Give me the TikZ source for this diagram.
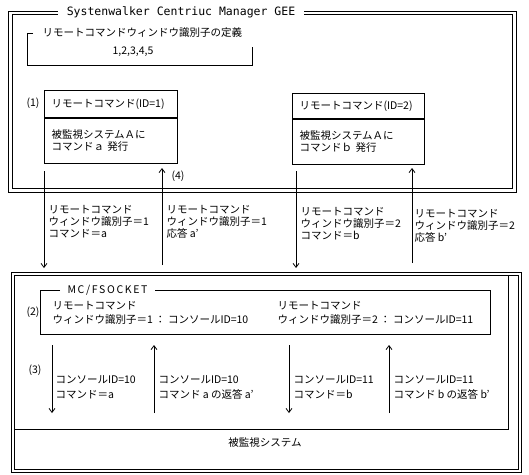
\documentclass[tikz,border=0pt]{standalone}
\usepackage{fontspec}
\setmainfont{Noto Sans CJK JP}
\newfontfamily\monofont{DejaVu Sans Mono}
\newfontfamily\widefont[LetterSpace=16]{Noto Sans CJK JP}
\usetikzlibrary{arrows.meta}
\begin{document}
\begin{tikzpicture}[x=1pt,y=-1pt,
  line width=1pt,
  every node/.style={font=\fontsize{10.5}{12}\selectfont, inner sep=0pt},
  lbl/.style={anchor=west, align=left},
  hdr/.style={draw, anchor=north west, align=left, inner xsep=7pt},
  arr/.style={-{Straight Barb[length=4pt,width=6pt]}, line width=0.8pt}]
\useasboundingbox (0,0) rectangle (529,474);
\fill[white] (0,0) rectangle (529,474);
% ---------- upper frame: Centric Manager ----------
\draw (8,11) rectangle (516,192);
\draw (12,14) rectangle (512,188);
\node[fill=white, inner xsep=9pt, inner ysep=3pt, font=\monofont\fontsize{11.5}{12}\selectfont] (title) at (181,12.5) {Systenwalker Centriuc Manager GEE};
% definition box
\draw (33,33) -- (27,33) -- (27,65) -- (252,65) -- (252,47);
\node[lbl] (deftitle) at (42,33) {リモートコマンドウィンドウ識別子の定義};
\node (defval) at (133,52) {1,2,3,4,5};
% remote command boxes
\node[hdr, minimum width=133pt, minimum height=27pt, text width=119pt] (h1) at (44,90) {リモートコマンド(ID=1)};
\node[hdr, minimum width=133pt, minimum height=45pt, text width=119pt, anchor=north west] (b1) at (h1.south west) {被監視システムＡに\\コマンドａ 発行};
\node[anchor=east] (n1) at (40,103.5) {(1)};
\node[hdr, minimum width=132pt, minimum height=25pt, text width=118pt] (h2) at (292,93) {リモートコマンド(ID=2)};
\node[hdr, minimum width=132pt, minimum height=45pt, text width=118pt, anchor=north west] (b2) at (h2.south west) {被監視システムＡに\\コマンドｂ 発行};
% ---------- lower frame: monitored system ----------
\draw (11,272) rectangle (521,472);
\draw (14,275) rectangle (518,469);
\draw (508,275) -- (508,429) -- (14,429);
\node (sys) at (265,443) {被監視システム};
% MC/FSOCKET box
\draw (60,290) -- (40,290) -- (40,334) -- (490,334) -- (490,290) -- (155,290);
\node[lbl, font=\widefont\fontsize{10.5}{12}\selectfont] (mctitle) at (67,290) {MC/FSOCKET};
\node[anchor=east] (n2) at (40,312) {(2)};
\node[lbl, font=\fontsize{10.5}{14}\selectfont] (map1) at (52,313) {リモートコマンド\\ウィンドウ識別子＝1 ： コンソールID=10};
\node[lbl, font=\fontsize{10.5}{14}\selectfont] (map2) at (277,313) {リモートコマンド\\ウィンドウ識別子＝2 ： コンソールID=11};
% ---------- upper arrows ----------
\coordinate (a1s) at (44,171);  \coordinate (a1e) at (44,268);
\coordinate (u1s) at (162,265); \coordinate (u1e) at (162,168);
\coordinate (a2s) at (296,171); \coordinate (a2e) at (296,268);
\coordinate (u2s) at (412,263); \coordinate (u2e) at (412,168);
\draw[arr] (a1s) -- (a1e);
\draw[arr] (u1s) -- (u1e);
\draw[arr] (a2s) -- (a2e);
\draw[arr] (u2s) -- (u2e);
\node[anchor=west] (n4) at (171,176) {(4)};
\node[lbl] (l1) at (48,222) {リモートコマンド\\ウィンドウ識別子＝1\\コマンド＝a};
\node[lbl] (l2) at (166,222) {リモートコマンド\\ウィンドウ識別子＝1\\応答 a’};
\node[lbl] (l3) at (300,224) {リモートコマンド\\ウィンドウ識別子＝2\\コマンド＝b};
\node[lbl] (l4) at (414,226) {リモートコマンド\\ウィンドウ識別子＝2\\応答 b’};
% ---------- lower arrows ----------
\coordinate (c1s) at (52,345);  \coordinate (c1e) at (52,413);
\coordinate (r1s) at (154,413); \coordinate (r1e) at (154,345);
\coordinate (c2s) at (289,345); \coordinate (c2e) at (289,413);
\coordinate (r2s) at (389,413); \coordinate (r2e) at (389,345);
\draw[arr] (c1s) -- (c1e);
\draw[arr] (r1s) -- (r1e);
\draw[arr] (c2s) -- (c2e);
\draw[arr] (r2s) -- (r2e);
\node (n3) at (35,370) {(3)};
\node[lbl, font=\fontsize{10.5}{15}\selectfont] (m1) at (55,387.5) {コンソールID=10\\コマンド＝a};
\node[lbl, font=\fontsize{10.5}{15}\selectfont] (m2) at (158,387.5) {コンソールID=10\\コマンド a の返答 a’};
\node[lbl, font=\fontsize{10.5}{15}\selectfont] (m3) at (293,387.5) {コンソールID=11\\コマンド＝b};
\node[lbl, font=\fontsize{10.5}{15}\selectfont] (m4) at (393,387.5) {コンソールID=11\\コマンド b の返答 b’};
\end{tikzpicture}
\end{document}
